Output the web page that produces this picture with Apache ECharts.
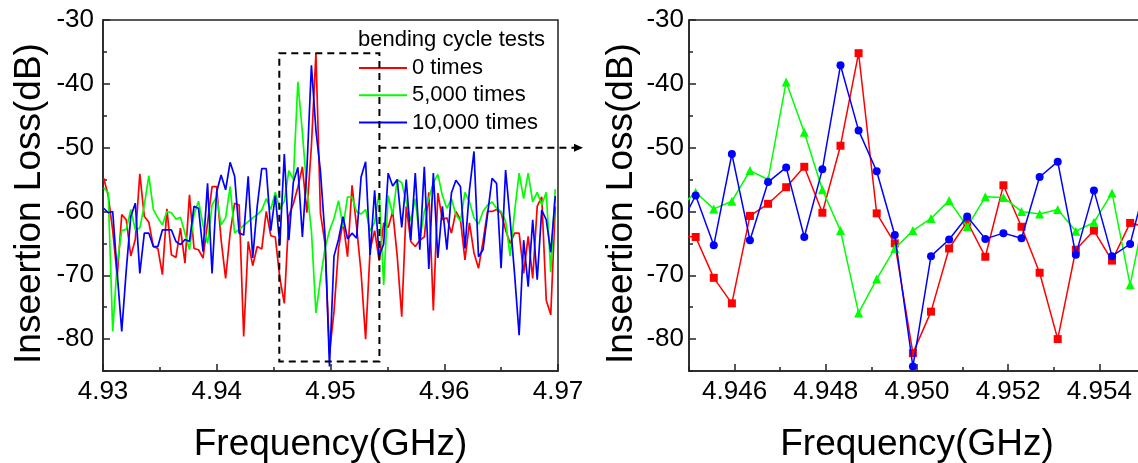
<!DOCTYPE html>
<html><head><meta charset="utf-8">
<script src="https://cdn.jsdelivr.net/npm/echarts@6/dist/echarts.min.js"></script>
<style>html,body{margin:0;padding:0;background:#fff}#c{width:1138px;height:463px}</style>
</head><body><div id="c"></div>
<script>
// sweep: start frequency and step (GHz)
const F0 = 4.93006, STEP = 0.000397;
const seriesNames = ['0 times', '5,000 times', '10,000 times'];
const red = [
 -54.8,-57.5,-63.0,-70.2,-60.5,-61.3,-67.0,-64.4,-54.1,-60.8,
 -61.7,-65.5,-65.8,-69.9,-59.6,-66.8,-67.2,-62.6,-68.1,-57.4,
 -65.8,-66.0,-67.3,-61.8,-56.1,-56.1,-64.4,-70.5,-63.4,-58.7,
 -59.0,-79.6,-64.7,-68.5,-65.5,-65.9,-60.0,-63.8,-64.0,-70.4,
 -74.4,-60.7,-58.8,-56.2,-53.0,-60.2,-49.7,-35.2,-60.3,-65.0,
 -82.2,-75.7,-65.8,-61.6,-67.1,-55.9,-62.4,-69.6,-80.0,-66.0,
 -63.0,-67.7,-61.8,-62.5,-60.0,-67.0,-76.5,-59.2,-64.7,-65.5,
 -64.5,-64.0,-57.0,-75.5,-57.1,-61.3,-61.0,-63.4,-60.0,-61.3,
 -67.6,-61.8,-66.5,-68.9,-64.7,-60.0,-60.0,-59.7,-60.2,-62.9,
 -65.0,-63.4,-63.4,-69.7,-63.9,-70.5,-59.2,-57.7,-73.9,-76.2,
 -59.2];
const green = [
 -56.3,-57.1,-78.8,-68.0,-63.0,-62.8,-59.7,-62.9,-62.6,-59.0,
 -54.4,-59.7,-61.0,-62.1,-60.0,-60.2,-61.2,-60.9,-63.4,-66.0,
 -60.5,-58.4,-62.1,-65.0,-59.0,-57.7,-62.1,-61.0,-56.1,-63.4,
 -62.8,-62.2,-61.6,-61.0,-60.5,-59.8,-58.0,-59.7,-57.0,-59.6,
 -58.4,-53.6,-55.0,-39.7,-47.6,-56.6,-63.0,-75.9,-70.6,-65.8,
 -63.0,-61.1,-58.3,-62.4,-57.7,-57.8,-60.0,-60.4,-59.7,-63.1,
 -61.7,-57.1,-71.5,-57.5,-60.5,-55.0,-55.5,-58.5,-61.5,-58.0,
 -64.5,-60.0,-58.0,-55.5,-54.2,-57.5,-59.5,-58.0,-60.5,-61.5,
 -57.0,-58.5,-61.0,-62.0,-60.0,-59.0,-58.5,-59.5,-60.0,-61.5,
 -67.0,-60.0,-54.0,-58.0,-54.0,-58.5,-57.0,-59.0,-57.0,-69.5,
 -56.5];
const blue = [
 -59.5,-60.2,-60.0,-69.7,-78.8,-69.2,-60.8,-58.7,-69.7,-63.4,
 -63.4,-65.5,-65.5,-62.9,-62.9,-62.9,-64.7,-65.2,-64.4,-64.7,
 -59.2,-59.5,-66.3,-55.6,-69.7,-57.0,-54.3,-56.6,-52.3,-54.5,
 -63.4,-63.7,-54.5,-67.3,-59.2,-53.3,-53.3,-63.0,-57.5,-65.3,
 -51.0,-64.5,-55.4,-53.1,-64.0,-53.4,-37.1,-47.3,-53.7,-63.7,
 -84.3,-67.0,-64.4,-60.8,-64.3,-63.4,-64.2,-54.6,-52.2,-66.8,
 -56.7,-67.0,-65.1,-54.0,-56.0,-55.0,-62.5,-55.0,-64.5,-54.0,
 -66.0,-53.0,-69.0,-54.0,-67.3,-59.2,-66.0,-57.1,-55.1,-56.1,
 -65.8,-56.6,-50.6,-67.1,-66.0,-60.5,-54.8,-55.6,-68.9,-53.5,
 -61.3,-69.9,-79.4,-64.5,-71.8,-61.3,-70.7,-59.8,-61.3,-66.4,
 -57.6];
const yMajor = [-80, -70, -60, -50, -40, -30];
const yMinor = [-85, -75, -65, -55, -45, -35];
const rightXMajor = [4.946, 4.948, 4.950, 4.952, 4.954];
const rightXMinor = [4.945, 4.947, 4.949, 4.951, 4.953, 4.955];
// dashed zoom box [x0, x1, yTop, yBottom] and arrow (data units of left panel)
const zoomBox = [4.9455, 4.9543, -35.2, -83.5];
const arrowY = -50, arrowEndX = 4.9722;

const colors = ['#ff0000', '#00ff00', '#0000ff'];
const symbols = ['rect', 'triangle', 'circle'];
const symbolSizes = [8, 9, 8];
const FONT = '"Liberation Sans", Arial, sans-serif';
const values = [red, green, blue];
const pairs = values.map(arr => arr.map((v, i) => [F0 + i * STEP, v]));

const axisColor = '#222';
function mainX(grid, min, max, extra) {
  return Object.assign({
    type: 'value', gridIndex: grid, min: min, max: max, position: 'bottom',
    axisLine: { show: true, onZero: false, lineStyle: { color: axisColor, width: 1.5 } },
    axisTick: { show: true, inside: true, length: 7, lineStyle: { color: axisColor, width: 1.5 } },
    axisLabel: { color: '#000', fontSize: 26, fontFamily: FONT, margin: 8 },
    splitLine: { show: false },
    name: 'Frequency(GHz)', nameLocation: 'middle', nameGap: 55,
    nameTextStyle: { color: '#000', fontSize: 37, fontFamily: FONT }
  }, extra);
}
function mainY(grid, nameGap, labelMargin) {
  return {
    type: 'value', gridIndex: grid, min: -85, max: -30, position: 'left',
    axisLine: { show: true, onZero: false, lineStyle: { color: axisColor, width: 1.5 } },
    axisTick: { show: true, inside: true, length: 7, customValues: yMajor, lineStyle: { color: axisColor, width: 1.5 } },
    axisLabel: { color: '#000', fontSize: 26, fontFamily: FONT, margin: labelMargin, customValues: yMajor },
    splitLine: { show: false },
    name: 'Inseertion Loss(dB)', nameLocation: 'middle', nameGap: nameGap, nameRotate: 90,
    nameTextStyle: { color: '#000', fontSize: 37, fontFamily: FONT, padding: [0, 16, 0, 0] }
  };
}
function minorY(grid) {
  return {
    type: 'value', gridIndex: grid, min: -85, max: -30, position: 'left',
    axisLine: { show: false }, axisLabel: { show: false }, splitLine: { show: false },
    axisTick: { show: true, inside: true, length: 4, customValues: yMinor, lineStyle: { color: axisColor, width: 1.5 } }
  };
}

const series = [];
values.forEach((arr, k) => {
  series.push({
    name: seriesNames[k], type: 'line', xAxisIndex: 0, yAxisIndex: 0,
    data: pairs[k], symbol: 'none', lineStyle: { color: colors[k], width: 1.7 },
    itemStyle: { color: colors[k] }, animation: false, z: 2 + k
  });
});
values.forEach((arr, k) => {
  series.push({
    name: 'zoom ' + seriesNames[k], type: 'line', xAxisIndex: 1, yAxisIndex: 2,
    data: pairs[k], symbol: symbols[k], symbolSize: symbolSizes[k], showSymbol: true,
    lineStyle: { color: colors[k], width: 1.5 }, itemStyle: { color: colors[k] },
    animation: false, z: 2 + k
  });
});

const gridBase = { top: 20, height: 351, show: true, borderColor: axisColor, borderWidth: 1.5,
  containLabel: false, outerBoundsMode: 'none' };

const chart = echarts.init(document.getElementById('c'), null, { renderer: 'canvas' });
chart.setOption({
  backgroundColor: '#fff',
  animation: false,
  title: {
    text: 'bending cycle tests', left: 358, top: 29, padding: 0,
    textStyle: { color: '#000', fontSize: 22, fontWeight: 'normal', fontFamily: FONT }
  },
  legend: {
    data: seriesNames, orient: 'vertical', left: 359, top: 57, padding: 0,
    icon: 'rect', itemWidth: 48, itemHeight: 2, itemGap: 5.3,
    textStyle: { color: '#000', fontSize: 22, fontFamily: FONT },
    selectedMode: false
  },
  grid: [
    Object.assign({ left: 103, width: 455 }, gridBase),
    Object.assign({ left: 689, width: 456 }, gridBase)
  ],
  xAxis: [
    mainX(0, 4.93, 4.97, {
      interval: 0.01,
      minorTick: { show: true, splitNumber: 2, length: 4, lineStyle: { color: axisColor, width: 1.5 } },
      axisLabel: { color: '#000', fontSize: 26, fontFamily: FONT, margin: 8, formatter: v => v.toFixed(2) }
    }),
    mainX(1, 4.945, 4.955, {
      axisTick: { show: true, inside: true, length: 7, customValues: rightXMajor, lineStyle: { color: axisColor, width: 1.5 } },
      axisLabel: { color: '#000', fontSize: 26, fontFamily: FONT, margin: 8, customValues: rightXMajor, formatter: v => v.toFixed(3) }
    }),
    {
      type: 'value', gridIndex: 1, min: 4.945, max: 4.955, position: 'bottom',
      axisLine: { show: false }, axisLabel: { show: false }, splitLine: { show: false },
      axisTick: { show: true, inside: true, length: 4, customValues: rightXMinor, lineStyle: { color: axisColor, width: 1.5 } }
    }
  ],
  yAxis: [mainY(0, 55, 9), minorY(0), mainY(1, 49, 5), minorY(1)],
  series: series
});

function drawAnnotations() {
  const p = (x, y) => chart.convertToPixel({ xAxisIndex: 0, yAxisIndex: 0 }, [x, y]);
  const a = p(zoomBox[0], zoomBox[2]);
  const b = p(zoomBox[1], zoomBox[3]);
  const s = p(zoomBox[1], arrowY);
  const e = p(arrowEndX, arrowY);
  const dash = [7, 5];
  chart.setOption({
    graphic: [
      { type: 'rect', shape: { x: a[0], y: a[1], width: b[0] - a[0], height: b[1] - a[1] },
        style: { fill: 'none', stroke: '#000', lineWidth: 2, lineDash: dash }, z: 100 },
      { type: 'line', shape: { x1: s[0], y1: s[1], x2: e[0] - 8, y2: e[1] },
        style: { stroke: '#000', lineWidth: 2, lineDash: dash }, z: 100 },
      { type: 'polygon', shape: { points: [[e[0] - 9, e[1] - 4], [e[0], e[1]], [e[0] - 9, e[1] + 4]] },
        style: { fill: '#000' }, z: 100 }
    ]
  });
}
drawAnnotations();
</script>
</body></html>
